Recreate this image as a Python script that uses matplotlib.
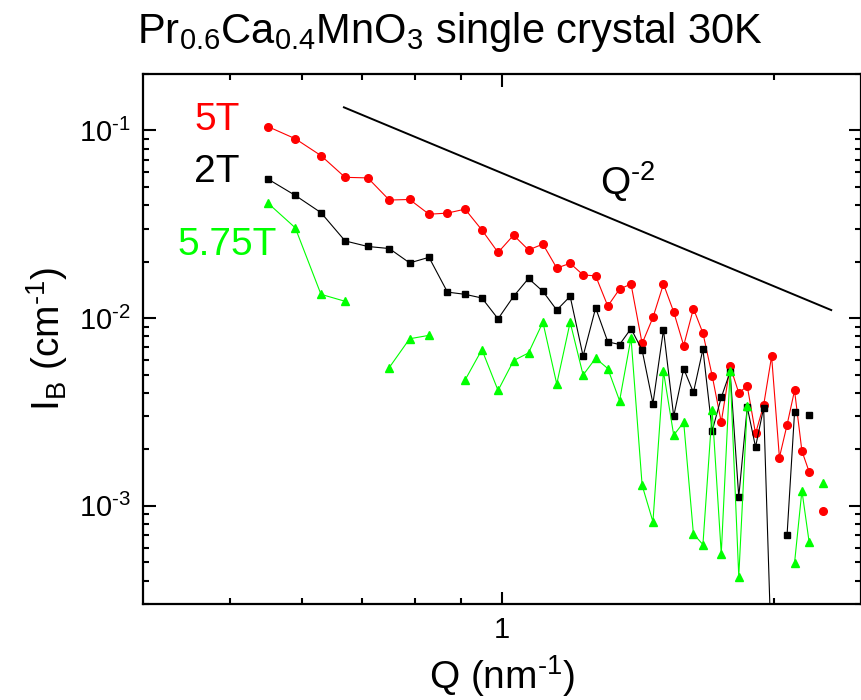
import numpy as np
import matplotlib
matplotlib.use("Agg")
import matplotlib.pyplot as plt
from matplotlib.ticker import FixedLocator, FixedFormatter, FuncFormatter, LogLocator, NullFormatter

plt.rcParams["font.family"] = ["Liberation Sans", "DejaVu Sans"]
plt.rcParams["mathtext.fontset"] = "custom"
plt.rcParams["mathtext.rm"] = "Liberation Sans"
plt.rcParams["mathtext.it"] = "Liberation Sans:italic"
plt.rcParams["mathtext.default"] = "regular"

HY = "\u2010"  # short hyphen as in the original superscripts

# scattering vector Q (nm^-1)
q = [0.55, 0.59, 0.63, 0.67, 0.71, 0.75, 0.79, 0.83, 0.87, 0.91,
     0.95, 0.99, 1.03, 1.07, 1.11, 1.15, 1.19, 1.23, 1.27, 1.31,
     1.35, 1.39, 1.43, 1.47, 1.51, 1.55, 1.59, 1.63, 1.67, 1.71,
     1.75, 1.79, 1.83, 1.87, 1.91, 1.95, 1.99, 2.03, 2.07, 2.11,
     2.15, 2.19, 2.23, 2.27]

nan = np.nan
# I_B (cm^-1), gaps = points not shown
i_5T = [0.1050, 0.0904, 0.0735, 0.0563, 0.0559, 0.0426, 0.0429, 0.0358, 0.0363, 0.0381,
        0.0295, 0.0224, 0.0277, 0.0231, 0.0248, 0.0185, 0.0196, 0.0170, 0.0168, 0.0116,
        0.0143, 0.0152, 0.00733, 0.01009, 0.0152, 0.0108, 0.00715, 0.01125, 0.00833, 0.00493,
        0.00279, 0.00555, 0.00400, 0.00435, 0.00243, 0.00344, 0.00627, 0.00181, 0.00270, 0.00412,
        0.00196, 0.00152, nan, 0.000935]

i_2T = [0.0552, 0.0451, 0.0365, 0.0258, 0.0241, 0.0235, 0.0197, 0.0211, 0.01377, 0.01340,
        0.01281, 0.00992, 0.01307, 0.01628, 0.01390, 0.01105, 0.01307, 0.00628, 0.01134, 0.00748,
        0.00724, 0.00880, 0.00675, 0.00351, 0.00867, 0.00300, 0.00538, 0.00402, 0.00683, 0.00251,
        0.00378, 0.00518, 0.001116, 0.00336, 0.00206, 0.00333, 0.00015, nan, 0.000698, 0.00315,
        nan, 0.00304, nan, nan]

i_575T = [0.0411, 0.0303, 0.01340, 0.01230, nan, 0.00546, 0.00777, 0.00810, nan, 0.00468,
          0.00680, 0.00412, 0.00594, 0.00653, 0.00952, 0.00446, 0.00952, 0.00498, 0.00612, 0.00539,
          0.00363, 0.00786, 0.001287, 0.000823, 0.00520, 0.00238, 0.00279, 0.000709, 0.000622, 0.00323,
          0.000556, 0.00526, 0.000420, 0.00342, nan, nan, nan, nan, nan, 0.000497,
          0.001205, 0.000642, nan, 0.001323]

# Q^-2 guide line
q_guide = np.array([0.668, 2.317])
guide_prefactor = 0.0593

fig = plt.figure(figsize=(8.62, 7.0), dpi=100)
ax = fig.add_axes([143 / 862, 96 / 700, 718 / 862, 530 / 700])

ax.plot(q, i_5T, color="#ff0000", marker="o", markersize=5.5, linewidth=0.8)
ax.plot(q, i_2T, color="black", marker="s", markersize=4.6, linewidth=0.8)
ax.plot(q, i_575T, color="#00ff00", marker="^", markersize=5.5, linewidth=0.8)
ax.plot(q_guide, guide_prefactor * q_guide ** -2, color="black", linewidth=1.4)

ax.set_xscale("log")
ax.set_yscale("log")
ax.set_xlim(0.4, 2.5)
ax.set_ylim(3e-4, 0.2)

ax.xaxis.set_major_locator(FixedLocator([1]))
ax.xaxis.set_major_formatter(FixedFormatter(["1"]))
ax.xaxis.set_minor_locator(FixedLocator([0.5, 0.6, 0.7, 0.8, 0.9, 2]))
ax.xaxis.set_minor_formatter(NullFormatter())
ax.yaxis.set_major_locator(LogLocator(base=10))
ax.yaxis.set_major_formatter(FuncFormatter(
    lambda v, pos: "10$^{%s%d}$" % (HY, -int(round(np.log10(v))))))
ax.yaxis.set_minor_locator(LogLocator(base=10, subs=np.arange(2, 10)))
ax.yaxis.set_minor_formatter(NullFormatter())

ax.tick_params(which="both", direction="in", top=True, right=True, width=1.5)
ax.tick_params(which="major", length=9, labelsize=21, pad=9)
ax.tick_params(which="minor", length=4.5)
for s in ax.spines.values():
    s.set_linewidth(1.6)

ax.set_xlabel("Q (nm$^{%s1}$)" % HY, fontsize=28, labelpad=6)
ax.set_ylabel("I$_B$ (cm$^{%s1}$)" % HY, fontsize=28, labelpad=6)

ax.text(0.135, 0.894, "5T", color="#ff0000", fontsize=28, ha="right", va="baseline", transform=ax.transAxes)
ax.text(0.135, 0.796, "2T", color="black", fontsize=28, ha="right", va="baseline", transform=ax.transAxes)
ax.text(0.1866, 0.6585, "5.75T", color="#00ff00", fontsize=28, ha="right", va="baseline", transform=ax.transAxes)
ax.text(0.6365, 0.7717, "Q$^{%s2}$" % HY, color="black", fontsize=28, ha="left", va="baseline", transform=ax.transAxes)

fig.text(137 / 862, 1 - 43 / 700, "Pr$_{0.6}$Ca$_{0.4}$MnO$_3$ single crystal 30K",
         fontsize=30, ha="left", va="baseline")

fig.savefig("out.png", dpi=100)
